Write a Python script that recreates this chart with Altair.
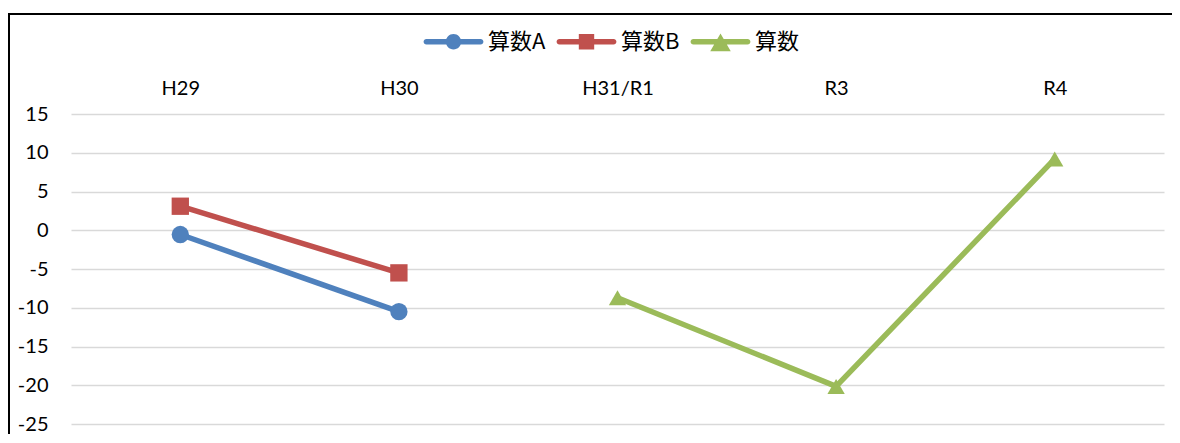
import altair as alt
import pandas as pd

# ---- data ----
years = ["H29", "H30", "H31/R1", "R3", "R4"]
series_names = ["算数A", "算数B", "算数"]
series_colors = ["#4F81BD", "#C0504D", "#9BBB59"]

a_years = ["H29", "H30"]
a_values = [-0.55, -10.5]
b_years = ["H29", "H30"]
b_values = [3.1, -5.5]
c_years = ["H31/R1", "R3", "R4"]
c_values = [-8.7, -20.15, 9.2]

y_ticks = [-25, -20, -15, -10, -5, 0, 5, 10, 15]

rows = []
for name, ys, vs in [(series_names[0], a_years, a_values),
                     (series_names[1], b_years, b_values),
                     (series_names[2], c_years, c_values)]:
    for yr, v in zip(ys, vs):
        rows.append({"series": name, "year": yr, "value": v})
df = pd.DataFrame(rows)

# legend symbols: line + marker (custom paths in unit box)
line_part = "M-0.95,-0.1 L0.95,-0.1 A0.1,0.1 0 0,1 0.95,0.1 L-0.95,0.1 A0.1,0.1 0 0,1 -0.95,-0.1 Z "
legend_paths = [
    line_part + "M-0.27,0 A0.27,0.27 0 1,1 0.27,0 A0.27,0.27 0 1,1 -0.27,0 Z",
    line_part + "M-0.27,-0.27 L0.27,-0.27 L0.27,0.27 L-0.27,0.27 Z",
    line_part + "M0,-0.29 L0.36,0.33 L-0.36,0.33 Z",
]
marker_shapes = ["circle", "square", "triangle-up"]

W, H = 1093, 310

x_enc = alt.X("year:N", sort=years,
              scale=alt.Scale(type="point", padding=0.5, domain=years),
              axis=alt.Axis(orient="top", title=None, labelAngle=0, domain=False,
                            ticks=False, grid=False, labelPadding=16,
                            labelFont="Lato", labelFontSize=20, labelColor="#000000"))
y_enc = alt.Y("value:Q",
              scale=alt.Scale(domain=[-25, 15], nice=False, zero=False),
              axis=alt.Axis(title=None, values=y_ticks, domain=False, ticks=False,
                            grid=True, gridColor="#D9D9D9", gridWidth=1.5,
                            labelPadding=23, labelExpr="datum.value + ''",
                            labelFont="Lato", labelFontSize=20, labelColor="#000000"))

base = alt.Chart(df)

layers = []
for name, col in zip(series_names, series_colors):
    layers.append(
        base.transform_filter(alt.datum.series == name)
        .mark_line(strokeWidth=5.5, strokeJoin="round", color=col)
        .encode(x=x_enc, y=y_enc)
    )
for name, col, shp in zip(series_names, series_colors, marker_shapes):
    layers.append(
        base.transform_filter(alt.datum.series == name)
        .mark_point(filled=True, opacity=1, size=300, shape=shp, color=col)
        .encode(x=x_enc, y=y_enc)
    )

leg = alt.Legend(title=None, orient="none", direction="horizontal",
                 legendX=354, legendY=-101, columns=3,
                 symbolSize=3249, symbolStrokeWidth=0,
                 labelOffset=6, columnPadding=10, padding=0,
                 labelFont="Noto Sans CJK JP", labelFontSize=22,
                 labelColor="#000000")

legend_layer = base.transform_filter("false").mark_point(filled=True, opacity=1).encode(
    x=x_enc, y=y_enc,
    color=alt.Color("series:N", scale=alt.Scale(domain=series_names, range=series_colors),
                    legend=leg),
    shape=alt.Shape("series:N", scale=alt.Scale(domain=series_names, range=legend_paths),
                    legend=leg),
)
layers.append(legend_layer)

frame_data = alt.Data(values=[{"k": 0}])
layers.append(alt.Chart(frame_data).mark_rule(color="#000000", strokeWidth=2).encode(
    x=alt.value(-63), x2=alt.value(W + 8), y=alt.value(-100)))
layers.append(alt.Chart(frame_data).mark_rule(color="#000000", strokeWidth=2).encode(
    x=alt.value(-62), y=alt.value(-100), y2=alt.value(H + 12)))

chart = alt.layer(*layers).properties(
    width=W, height=H,
    autosize=alt.AutoSizeParams(type="none"),
    padding={"left": 63, "top": 106, "right": 8, "bottom": 10},
    background="#FFFFFF",
).configure_view(stroke=None)

chart.save("out.html", embed_options={"renderer": "svg", "actions": False})
